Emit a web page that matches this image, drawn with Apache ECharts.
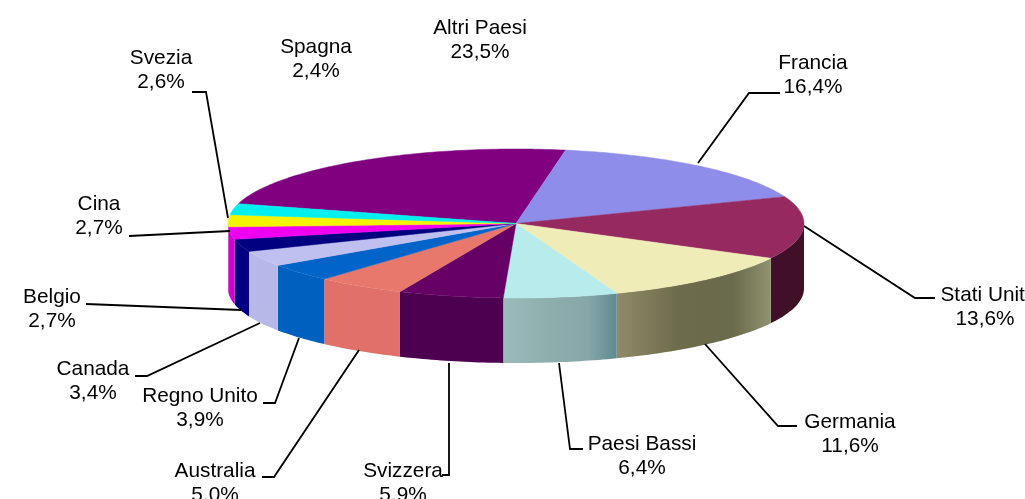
<!DOCTYPE html>
<html>
<head>
<meta charset="utf-8">
<style>
  html, body { margin: 0; padding: 0; background: #fff; overflow: hidden; }
  #chart { width: 1025px; height: 499px; }
</style>
<script src="https://cdn.jsdelivr.net/npm/echarts@6/dist/echarts.min.js"></script>
</head>
<body>
<div id="chart"></div>
<script>
// dati
const paesi = ['Altri Paesi', 'Francia', 'Stati Uniti', 'Germania', 'Paesi Bassi', 'Svizzera', 'Australia', 'Regno Unito', 'Canada', 'Belgio', 'Cina', 'Svezia', 'Spagna']
const quote = [23.5, 16.4, 13.6, 11.6, 6.4, 5.9, 5.0, 3.9, 3.4, 2.7, 2.7, 2.6, 2.4]

// colori: faccia superiore e bordo laterale (da sinistra a destra)
const coloriTop = ['#800080', '#8e8eea', '#962a60', '#f0ecb8', '#b8ecec', '#660066', '#e8786c', '#0064c8', '#c0c0f0', '#000080', '#f000f0', '#f4f400', '#00f0f0']
const coloriLato = [
  null, null,
  ['#401028', '#401028', '#401028', '#401028'],
  ['#908a68', '#6c6c4c', '#6a6a4c', '#90926f'],
  ['#9cbaba', '#8eaeae', '#86a6a8', '#5f8a92'],
  ['#4e0050', '#4e0050', '#4e0050', '#4e0050'],
  ['#e07068', '#e07068', '#e07068', '#e07068'],
  ['#0060c0', '#0060c0', '#0060c0', '#0060c0'],
  ['#b8b8e8', '#b8b8e8', '#b8b8e8', '#b8b8e8'],
  ['#000080', '#000080', '#000080', '#000080'],
  ['#d000d0', '#d000d0', '#d000d0', '#d000d0'],
  null, null
]

// layout della torta
const cx = 516
const cy = 223.5
const rx = 288
const ry = 74.5
const spessore = 65
const angoloIniziale = 164.6

// posizione etichette [x, y della prima riga]
const posEtichette = [[480, 28], [813, 63], [985, 295], [850, 422], [642, 444], [403, 471], [215, 471], [200, 396], [93, 369], [52, 297], [99, 204], [161, 58], [316, 47]]
// linee guida, null = nessuna linea
const lineeGuida = [
  null,
  [[780, 93], [749, 93], [698, 163]],
  [[804, 226], [915, 298], [935, 298]],
  [[705, 344], [778, 426], [797, 426]],
  [[559, 363], [570, 449], [583, 449]],
  [[449, 363], [449, 475], [442, 475]],
  [[359, 350], [274, 477], [262, 477]],
  [[299, 338], [275, 403], [263, 403]],
  [[260, 323], [147, 376], [135, 376]],
  [[241, 310], [86, 304]],
  [[230, 231], [129, 236]],
  [[228, 218], [206, 92], [192, 92]],
  null
]

const totale = quote.reduce((a, b) => a + b, 0)

function puntoEllisse(gradi, dy) {
  const t = gradi * Math.PI / 180
  return [cx + rx * Math.cos(t), cy - ry * Math.sin(t) + (dy || 0)]
}

function arco(da, a, dy) {
  const passi = Math.max(2, Math.ceil(Math.abs(a - da)))
  const punti = []
  for (let i = 0; i <= passi; i++) {
    punti.push(puntoEllisse(da + (a - da) * i / passi, dy))
  }
  return punti
}

function renderFetta(params, api) {
  const i = params.dataIndex
  let prima = 0
  for (let k = 0; k < i; k++) prima += quote[k]
  const da = angoloIniziale - prima / totale * 360
  const a = da - api.value(1) / totale * 360
  const children = []

  // bordo laterale: solo la parte davanti (da 0 a -180 gradi)
  const latoDa = Math.min(da, 0)
  const latoA = Math.max(a, -180)
  if (coloriLato[i] && latoDa > latoA) {
    const sopra = arco(latoDa, latoA, 0)
    const sotto = arco(latoA, latoDa, spessore)
    children.push({
      type: 'polygon',
      shape: { points: sopra.concat(sotto) },
      style: {
        fill: new echarts.graphic.LinearGradient(0, 0, 1, 0, [
          { offset: 0, color: coloriLato[i][0] },
          { offset: 0.4, color: coloriLato[i][1] },
          { offset: 0.75, color: coloriLato[i][2] },
          { offset: 1, color: coloriLato[i][3] }
        ])
      }
    })
  }

  // faccia superiore
  children.push({
    type: 'polygon',
    shape: { points: [[cx, cy]].concat(arco(da, a, 0)) },
    style: { fill: coloriTop[i], stroke: coloriTop[i], lineWidth: 0.5 }
  })
  return { type: 'group', children: children }
}

function etichetta(i) {
  return paesi[i] + '\n' + quote[i].toFixed(1).replace('.', ',') + '%'
}

const grafici = []
lineeGuida.forEach(punti => {
  if (!punti) return
  grafici.push({
    type: 'polyline',
    silent: true,
    z: 10,
    shape: { points: punti },
    style: { stroke: '#000', lineWidth: 1.8, fill: null }
  })
})
paesi.forEach((nome, i) => {
  grafici.push({
    type: 'text',
    silent: true,
    z: 11,
    x: posEtichette[i][0],
    y: posEtichette[i][1] - 12,
    style: {
      text: etichetta(i),
      fill: '#000',
      font: '20.8px "Liberation Sans", Arial, sans-serif',
      lineHeight: 24,
      align: 'center',
      verticalAlign: 'top'
    }
  })
})

const chart = echarts.init(document.getElementById('chart'))
chart.setOption({
  animation: false,
  backgroundColor: '#fff',
  graphic: grafici,
  series: [{
    type: 'custom',
    coordinateSystem: 'none',
    silent: true,
    renderItem: renderFetta,
    data: quote.map((v, i) => [i, v])
  }]
})
</script>
</body>
</html>
